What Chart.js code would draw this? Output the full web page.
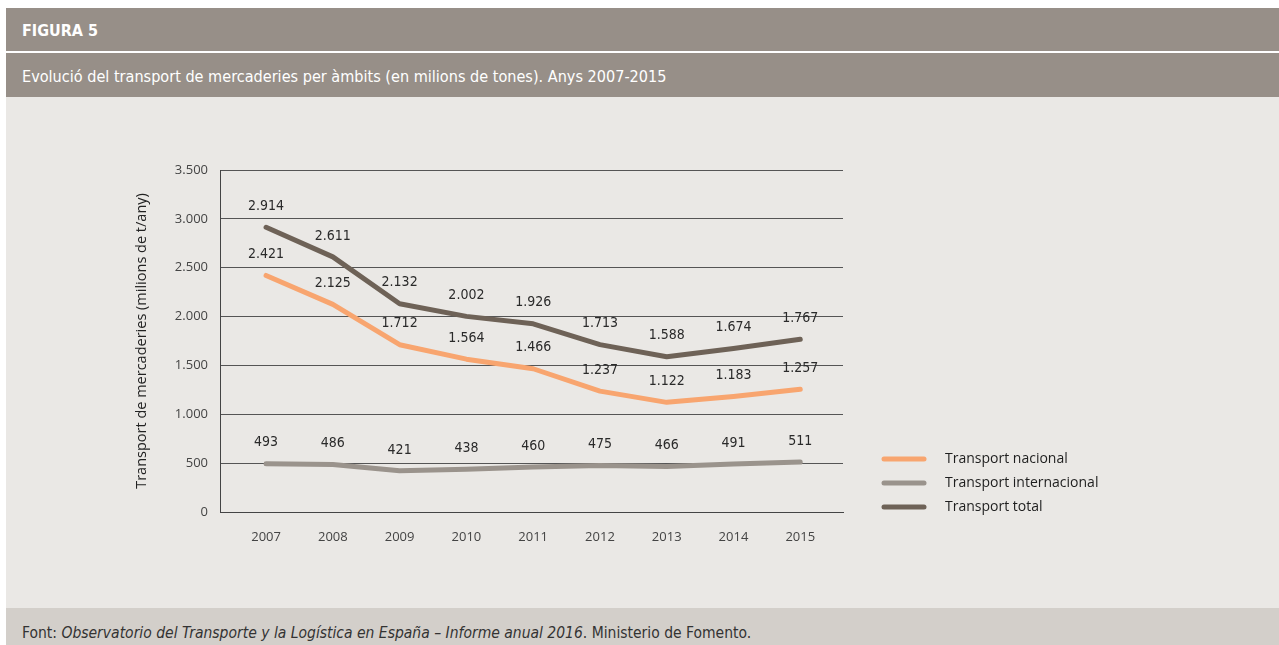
<!DOCTYPE html>
<html lang="ca">
<head>
<meta charset="utf-8">
<script src="https://cdn.jsdelivr.net/npm/chart.js@4"></script>
<style>
  body { margin: 0; background: #fff; width: 1279px; height: 645px; position: relative; overflow: hidden; }
  .band { position: absolute; left: 6px; right: 0; }
  .fig { top: 8px; height: 43px; background: #978f88; color: #fff; font: bold 16px "DejaVu Sans Condensed", sans-serif; line-height: 46px; padding-left: 16px; }
  .sub { top: 53px; height: 44px; background: #978f88; color: #fff; font: 16.1px "DejaVu Sans Condensed", sans-serif; line-height: 47px; padding-left: 16px; }
  .panel { top: 97px; height: 511px; background: #eae8e5; }
  .foot { top: 608px; height: 37px; background: #d3cfca; color: #333; font: 15.5px "DejaVu Sans Condensed", sans-serif; line-height: 50px; padding-left: 16px; }
  #chart { position: absolute; left: 0; top: 97px; }
</style>
</head>
<body>
<div class="band fig">FIGURA 5</div>
<div class="band sub">Evolució del transport de mercaderies per àmbits (en milions de tones). Anys 2007-2015</div>
<div class="band panel"></div>
<div class="band foot">Font: <i>Observatorio del Transporte y la Logística en España – Informe anual 2016</i>. Ministerio de Fomento.</div>
<canvas id="chart" width="1279" height="511"></canvas>
<script>
const years = [2007, 2008, 2009, 2010, 2011, 2012, 2013, 2014, 2015];
const nacional = [2421, 2125, 1712, 1564, 1466, 1237, 1122, 1183, 1257];
const internacional = [493, 486, 421, 438, 460, 475, 466, 491, 511];
const total = [2914, 2611, 2132, 2002, 1926, 1713, 1588, 1674, 1767];
const seriesNames = ['Transport nacional', 'Transport internacional', 'Transport total'];
const seriesColors = ['#f8a56f', '#9a938c', '#6e6257'];

// thousands with a dot, as in "2.914"
function fmt(v) {
  return String(Math.round(v)).replace(/\B(?=(\d{3})+(?!\d))/g, '.');
}

function points(values) {
  return years.map((y, i) => ({ x: y, y: values[i] }));
}

const valueLabels = {
  id: 'valueLabels',
  afterDatasetsDraw(chart) {
    const ctx = chart.ctx;
    ctx.save();
    ctx.font = '14px "DejaVu Sans Condensed", sans-serif';
    ctx.fillStyle = '#2a2a2a';
    ctx.textAlign = 'center';
    ctx.textBaseline = 'bottom';
    chart.data.datasets.forEach((ds, di) => {
      const meta = chart.getDatasetMeta(di);
      meta.data.forEach((pt, i) => {
        ctx.fillText(fmt(ds.data[i].y), pt.x, pt.y - 14);
      });
    });
    ctx.restore();
  }
};

const sideLegend = {
  id: 'sideLegend',
  afterDraw(chart) {
    const ctx = chart.ctx;
    ctx.save();
    ctx.font = '14px "Open Sans", sans-serif';
    ctx.textBaseline = 'middle';
    seriesNames.forEach((name, i) => {
      const y = 362 + i * 24;
      ctx.strokeStyle = seriesColors[i];
      ctx.lineWidth = 5;
      ctx.lineCap = 'round';
      ctx.beginPath();
      ctx.moveTo(884, y);
      ctx.lineTo(924, y);
      ctx.stroke();
      ctx.fillStyle = '#1e1e1e';
      ctx.fillText(name, 945, y);
    });
    ctx.restore();
  }
};

const ctx = document.getElementById('chart').getContext('2d');
new Chart(ctx, {
  type: 'line',
  data: {
    datasets: [
      { label: seriesNames[0], data: points(nacional), borderColor: seriesColors[0] },
      { label: seriesNames[1], data: points(internacional), borderColor: seriesColors[1] },
      { label: seriesNames[2], data: points(total), borderColor: seriesColors[2] }
    ]
  },
  options: {
    responsive: false,
    animation: false,
    devicePixelRatio: 1,
    layout: { padding: { left: 133, top: 73, right: 436, bottom: 0 } },
    elements: {
      point: { radius: 0 },
      line: { borderWidth: 5, tension: 0, borderCapStyle: 'round', borderJoinStyle: 'round' }
    },
    plugins: { legend: { display: false }, tooltip: { enabled: false } },
    scales: {
      x: {
        type: 'linear',
        min: 2006.31,
        max: 2015.64,
        afterBuildTicks(scale) { scale.ticks = years.map(v => ({ value: v })); },
        afterFit(scale) { scale.height = 96; },
        grid: { display: false },
        border: { display: true, color: '#444', width: 1 },
        ticks: { padding: 9, color: '#444', font: { family: '"Open Sans", sans-serif', size: 13 }, callback: v => String(v) }
      },
      y: {
        min: 0,
        max: 3500,
        afterFit(scale) { scale.width = 87; },
        grid: { color: '#555', lineWidth: 1, drawTicks: false },
        border: { display: true, color: '#444', width: 1 },
        ticks: { stepSize: 500, padding: 12, color: '#444', font: { family: '"Open Sans", sans-serif', size: 13 }, callback: v => fmt(v) },
        title: { display: true, text: 'Transport de mercaderies (milions de t/any)', color: '#222', font: { family: '"Open Sans", sans-serif', size: 14.5 }, padding: 0 }
      }
    }
  },
  plugins: [valueLabels, sideLegend]
});
</script>
</body>
</html>
